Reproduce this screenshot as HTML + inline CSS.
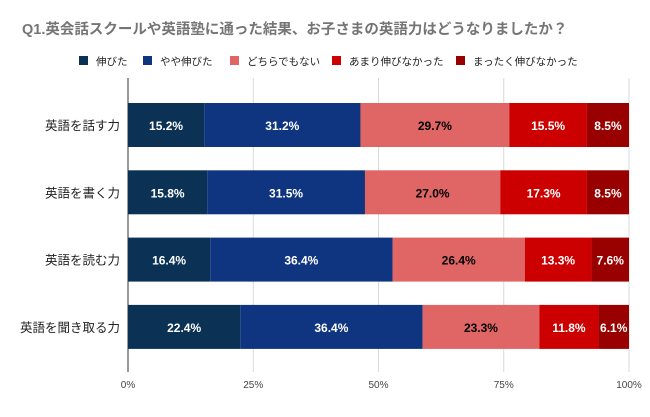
<!DOCTYPE html>
<html><head><meta charset="utf-8"><style>
body{margin:0;background:#fff;}
svg text{font-family:"Liberation Sans","Noto Sans CJK JP",sans-serif;}
</style></head><body>
<svg width="650" height="412" xmlns="http://www.w3.org/2000/svg">
<rect width="650" height="412" fill="#fff"/>
<text x="22" y="34" font-size="14.5" font-weight="bold" fill="#757575">Q1.英会話スクールや英語塾に通った結果、お子さまの英語力はどうなりましたか？</text>
<g id="legend"></g>
<g id="grid"></g>
<g id="bars"></g>
<g id="labels"></g>
<g id="ticks"></g>
</svg>
<script>
const categories=["英語を話す力","英語を書く力","英語を読む力","英語を聞き取る力"];
const seriesNames=["伸びた","やや伸びた","どちらでもない","あまり伸びなかった","まったく伸びなかった"];
const s1=[15.2,15.8,16.4,22.4];
const s2=[31.2,31.5,36.4,36.4];
const s3=[29.7,27.0,26.4,23.3];
const s4=[15.5,17.3,13.3,11.8];
const s5=[8.5,8.5,7.6,6.1];
const tickVals=[0,25,50,75,100];
const tickLabels=["0%","25%","50%","75%","100%"];
const colors=["#0b3255","#0f3580","#e06666","#cc0000","#990000"];
const textColors=["#fff","#fff","#000","#fff","#fff"];
const series=[s1,s2,s3,s4,s5];
const NS="http://www.w3.org/2000/svg";
const xLeft=128,xRight=629,gridTop=78,gridBottom=372;
const firstCenter=125,rowH=67.3;
const xs=v=>xLeft+(xRight-xLeft)*v/100;
const ys=i=>firstCenter+rowH*i;
const barH=44;
function mk(tag,attrs,parent){const e=document.createElementNS(NS,tag);for(const k in attrs)e.setAttribute(k,attrs[k]);parent.appendChild(e);return e;}
const grid=document.getElementById('grid'),ticks=document.getElementById('ticks');
tickVals.forEach((t,i)=>{
  const l=mk('line',{x1:xs(t),x2:xs(t),y1:gridTop,y2:gridBottom,stroke:i==0?'#333':'#d9d9d9','stroke-width':1},grid);
  
  
  const tx=mk('text',{x:xs(t),y:388,'font-size':10,fill:'#444','text-anchor':'middle'},ticks);
  tx.textContent=tickLabels[i];
  
  
});
const bars=document.getElementById('bars'),labels=document.getElementById('labels');
categories.forEach((c,ci)=>{
  const cy=ys(ci);
  const lt=mk('text',{x:120,y:cy+5,'font-size':12.5,fill:'#222','text-anchor':'end'},labels);
  lt.textContent=c;
  
  
  let acc=0;
  series.forEach((s,si)=>{
    const v=s[ci];
    const a=Math.min(acc,100),b=Math.min(acc+v,100);
    const r=mk('rect',{x:xs(a),y:cy-barH/2,width:xs(b)-xs(a),height:barH,fill:colors[si]},bars);
    
    
    const t=mk('text',{x:(xs(a)+xs(b))/2,y:cy+5,'font-size':12,'font-weight':'bold',fill:textColors[si],'text-anchor':'middle'},bars);
    t.textContent=v.toFixed(1)+'%';
    
    
    acc+=v;
  });
});
const legend=document.getElementById('legend');
const lx=[79,143,230,332,456];
seriesNames.forEach((n,i)=>{
  const r=mk('rect',{x:lx[i],y:56,width:9,height:9,fill:colors[i]},legend);
  
  
  const t=mk('text',{x:lx[i]+17,y:65,'font-size':10.5,fill:'#222'},legend);
  t.textContent=n;
  
  
});
</script>
</body></html>
